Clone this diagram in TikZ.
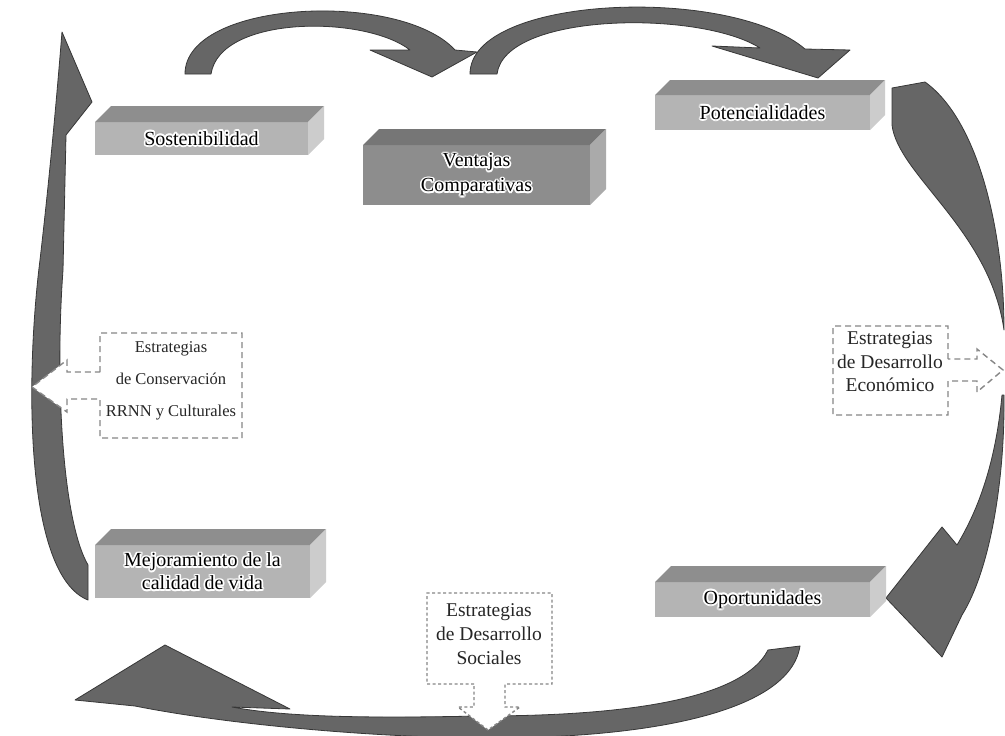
\documentclass[tikz,border=0pt]{standalone}
\usepackage{fontspec}
\setmainfont{Liberation Serif}
\usetikzlibrary{calc}
\definecolor{arrowfill}{RGB}{102,102,102}
\definecolor{arrowline}{RGB}{55,55,55}
\definecolor{dashgray}{RGB}{135,135,135}
\definecolor{pfront}{RGB}{180,180,180}
\definecolor{ptop}{RGB}{142,142,142}
\definecolor{pside}{RGB}{204,204,204}
\definecolor{vfront}{RGB}{141,141,141}
\definecolor{vtop}{RGB}{118,118,118}
\definecolor{vside}{RGB}{170,170,170}
\tikzset{
  bigarrow/.style={fill=arrowfill, draw=arrowline, line width=0.8pt, line join=round},
  dashbox/.style={draw=dashgray, fill=white, line width=1.4pt, dash pattern=on 6pt off 4pt},
  dotbox/.style={draw=dashgray, fill=white, line width=1.4pt, dash pattern=on 3pt off 2.5pt},
  boxtext/.style={font=\fontsize{20}{23}\selectfont, align=center, inner sep=0pt},
  calltext/.style={align=center, inner sep=0pt, text=black!85}
}
% name, x1, y1, x2, y2, depth, front, top, side
\newcommand\prism[9]{%
  \path[fill=#7] (#2,#3) rectangle (#4,#5);
  \path[fill=#8] (#2,#3) -- (#2+#6,#3-#6) -- (#4+#6,#3-#6) -- (#4,#3) -- cycle;
  \path[fill=#9] (#4,#3) -- (#4+#6,#3-#6) -- (#4+#6,#5-#6) -- (#4,#5) -- cycle;
  \coordinate (#1) at ({(#2+#4)/2},{(#3+#5)/2});}
% name, position, text, style : text with a white halo
\newcommand\halolabel[4]{%
  \foreach \ang in {0,30,...,330}{\node[#4,text=white] at ($(#2)+(\ang:1.7pt)$) {#3};}
  \node[#4] (#1) at (#2) {#3};}
\begin{document}
\begin{tikzpicture}[x=1pt,y=-1pt]
\useasboundingbox (0,0) rectangle (1005,736);
\fill[white] (0,0) rectangle (1005,736);

% ---- big curved arrows ----
% top 1 : Sostenibilidad -> Ventajas
\draw[bigarrow] (185,74) .. controls (185,0) and (400,-10) .. (455,50)
  -- (477,52) -- (432,77) -- (370,50) -- (410,50)
  .. controls (365,15) and (220,15) .. (211,74) -- cycle;
% top 2 : Ventajas -> Potencialidades
\draw[bigarrow] (470,74) .. controls (470,-5) and (730,-15) .. (805,49)
  -- (850,50) -- (818,78) -- (712,46) -- (760,48)
  .. controls (700,10) and (505,12) .. (497,74) -- cycle;
% right arrow, upper part
\draw[bigarrow] (892,88) -- (925,82) .. controls (978,120) and (1004,230) .. (1004,330)
  .. controls (990,230) and (898,175) .. (892,125) -- cycle;
% right arrow, lower part with head
\draw[bigarrow] (1002,395) .. controls (995,470) and (975,515) .. (957,545)
  -- (942,527) -- (886,598) -- (942,657) -- (962,615)
  .. controls (990,570) and (1005,480) .. (1004,395) -- cycle;
% bottom arrow
\draw[bigarrow] (768,650) .. controls (740,705) and (600,716) .. (480,716)
  .. controls (380,718) and (290,718) .. (232,707)
  -- (290,709) -- (165,645) -- (75,700) -- (135,706)
  .. controls (230,725) and (380,738) .. (490,738)
  .. controls (650,738) and (790,712) .. (800,646) -- cycle;
% left arrow
\draw[bigarrow] (88,600) .. controls (25,575) and (25,380) .. (40,260)
  .. controls (47,200) and (55,120) .. (62,32)
  -- (92,102) -- (66,135) -- (63,270)
  .. controls (55,380) and (62,520) .. (88,565) -- cycle;

% ---- prisms ----
\prism{sos}{95}{122}{308}{155}{16}{pfront}{ptop}{pside}
\prism{ven}{363}{145}{590}{205}{16}{vfront}{vtop}{vside}
\prism{pot}{655}{95}{870}{130}{15}{pfront}{ptop}{pside}
\prism{mej}{95}{545}{310}{598}{16}{pfront}{ptop}{pside}
\prism{opo}{655}{582}{870}{617}{16}{pfront}{ptop}{pside}

\halolabel{tsos}{sos}{Sostenibilidad}{boxtext}
\halolabel{tven}{ven}{Ventajas\\Comparativas}{boxtext, font=\fontsize{20}{25}\selectfont}
\halolabel{tpot}{pot}{Potencialidades}{boxtext}
\halolabel{tmej}{mej}{Mejoramiento de la\\calidad de vida}{boxtext}
\halolabel{topo}{opo}{Oportunidades}{boxtext}

% ---- dashed callouts ----
\draw[dashbox] (100,372) -- (100,333) -- (242,333) -- (242,438) -- (100,438) -- (100,399)
  -- (67,399) -- (67,412) -- (32,387) -- (67,360) -- (67,372) -- cycle;
\node[calltext, font=\fontsize{16.5}{32}\selectfont] (lbox) at (171,381)
  {Estrategias\\de Conservación\\RRNN y Culturales};

\draw[dashbox] (948,359) -- (948,326) -- (833,326) -- (833,415) -- (948,415) -- (948,381)
  -- (977,381) -- (977,392) -- (1003,370) -- (977,349) -- (977,359) -- cycle;
\node[calltext, font=\fontsize{19.5}{23.5}\selectfont] (rbox) at (890,362)
  {Estrategias\\de Desarrollo\\Económico};

\draw[dotbox] (474,684) -- (427,684) -- (427,593) -- (552,593) -- (552,684) -- (505,684)
  -- (505,707) -- (520,707) -- (488,730) -- (458,707) -- (474,707) -- cycle;
\node[calltext, font=\fontsize{19.5}{24}\selectfont] (bbox) at (489,634)
  {Estrategias\\de Desarrollo\\Sociales};
\end{tikzpicture}
\end{document}
